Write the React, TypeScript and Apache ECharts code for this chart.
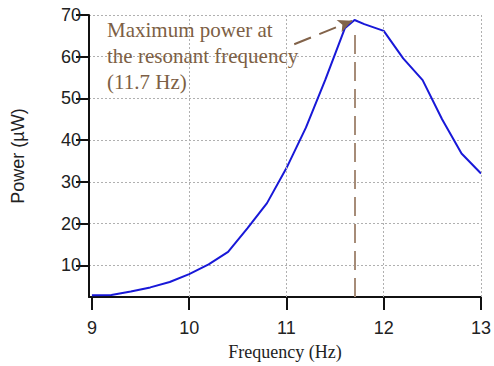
import React, { useEffect, useRef } from "react";
import * as echarts from "echarts";

const frequency = [9.0, 9.2, 9.4, 9.6, 9.8, 10.0, 10.2, 10.4, 10.6, 10.8, 11.0, 11.2, 11.4, 11.6, 11.7, 11.8, 12.0, 12.2, 12.4, 12.6, 12.8, 13.0];
const power = [2.8, 2.9, 3.7, 4.7, 6.0, 7.9, 10.2, 13.2, 18.9, 24.9, 33.3, 43.0, 54.5, 66.8, 68.8, 67.8, 66.2, 59.6, 54.4, 45.0, 36.8, 32.0];
const xTicks = [9, 10, 11, 12, 13];
const xGridLines = [10, 11, 12, 13];
const yTicks = [10, 20, 30, 40, 50, 60, 70];
const peakFreq = 11.7;
const annotationLines = ["Maximum power at", "the resonant frequency", "(11.7 Hz)"];
const arrowFrom = [11.08, 63.0];
const arrowTo = [11.675, 68.6];
const vLineTop = 66;

const SANS = '"Liberation Sans", Arial, sans-serif';
const SERIF = '"Liberation Serif", "Times New Roman", serif';

export default function App() {
  const ref = useRef<HTMLDivElement>(null);
  useEffect(() => {
    if (!ref.current) return;
    const chart = echarts.init(ref.current, null, { renderer: "svg" });
    const yMin = 2.4;
    chart.setOption({
      animation: false,
      backgroundColor: "#fff",
      grid: { left: 89, right: 12, top: 15, bottom: 69, containLabel: false },
      xAxis: {
        type: "value",
        min: 8.97,
        max: 13,
        name: "Frequency (Hz)",
        nameLocation: "middle",
        nameGap: 46,
        nameTextStyle: { fontFamily: SERIF, fontSize: 18, color: "#222" },
        axisLine: { show: true, lineStyle: { color: "#111", width: 2 } },
        axisTick: { show: true, length: 13, lineStyle: { color: "#111", width: 2 }, customValues: xTicks },
        axisLabel: { fontFamily: SANS, fontSize: 18, color: "#222", margin: 22, customValues: xTicks },
        splitLine: { show: false },
      },
      yAxis: {
        type: "value",
        min: yMin,
        max: 70,
        name: "Power (\u00b5W)",
        nameLocation: "middle",
        nameGap: 62,
        nameRotate: 90,
        nameTextStyle: { fontFamily: SANS, fontSize: 18, color: "#222" },
        axisLine: { show: true, lineStyle: { color: "#111", width: 2 } },
        axisTick: { show: true, length: 13, lineStyle: { color: "#111", width: 2 }, customValues: yTicks },
        axisLabel: { fontFamily: SANS, fontSize: 18, color: "#222", margin: 8, customValues: yTicks },
        splitLine: { show: true, lineStyle: { color: "#b0b0b0", width: 1, type: [2, 2] } },
      },
      graphic: [
        {
          type: "text",
          left: 107,
          top: 17,
          z: 10,
          style: {
            text: annotationLines.join("\n"),
            font: `21px ${SERIF}`,
            fill: "#7d5f45",
            lineHeight: 26,
          },
        },
      ],
      series: [
        {
          type: "line",
          data: [],
          z: 1,
          silent: true,
          markLine: {
            silent: true,
            symbol: "none",
            label: { show: false },
            lineStyle: { color: "#b0b0b0", width: 1, type: [2, 2] },
            data: xGridLines.map((v) => ({ xAxis: v })),
          },
        },
        {
          type: "line",
          data: [],
          z: 3,
          silent: true,
          markLine: {
            silent: true,
            symbol: "none",
            label: { show: false },
            lineStyle: { color: "#a68c78", width: 2, type: [19, 8] },
            data: [[{ coord: [peakFreq, yMin] }, { coord: [peakFreq, vLineTop] }]],
          },
        },
        {
          type: "line",
          data: frequency.map((f, i) => [f, power[i]]),
          z: 4,
          showSymbol: false,
          smooth: false,
          lineStyle: { color: "#1818d8", width: 2 },
        },
        {
          type: "line",
          data: [],
          z: 5,
          silent: true,
          markLine: {
            silent: true,
            symbol: ["none", "arrow"],
            symbolSize: [10, 14],
            label: { show: false },
            lineStyle: { color: "#82634a", width: 2, type: [18, 9] },
            data: [[{ coord: arrowFrom }, { coord: arrowTo }]],
          },
        },
      ],
    });
    return () => chart.dispose();
  }, []);
  return (
    <div
      ref={ref}
      style={{ position: "fixed", left: 0, top: 0, width: 494, height: 366 }}
    />
  );
}
